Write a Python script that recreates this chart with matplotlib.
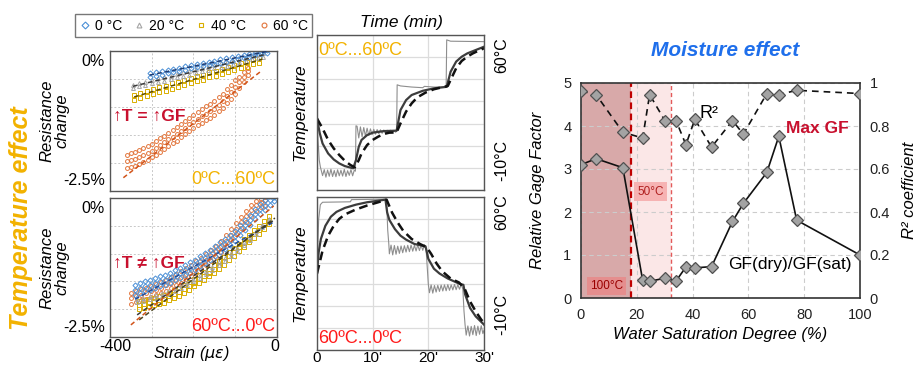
import matplotlib
matplotlib.use('Agg')
import matplotlib.pyplot as plt
from matplotlib.lines import Line2D
import numpy as np

plt.rcParams['font.family'] = ['Liberation Sans', 'DejaVu Sans']
plt.rcParams['mathtext.fontset'] = 'dejavusans'

# ---------------- DATA ----------------
temps_labels = ['0 °C', '20 °C', '40 °C', '60 °C']

# Top-left panel (0ºC...60ºC): strain (με) and resistance change (%)
top_s0 = [-305,-290,-276,-262,-248,-234,-220,-206,-192,-178,-164,-150,-136,-122,-108,-94,-80,-66,-52,-38,-25]
top_r0_hi = [-0.40,-0.38,-0.36,-0.34,-0.32,-0.30,-0.27,-0.25,-0.23,-0.21,-0.19,-0.17,-0.15,-0.13,-0.11,-0.09,-0.07,-0.05,-0.03,-0.01,0.01]
top_r0_lo = [-0.46,-0.44,-0.42,-0.40,-0.38,-0.36,-0.34,-0.31,-0.29,-0.27,-0.25,-0.23,-0.21,-0.19,-0.17,-0.14,-0.12,-0.10,-0.08,-0.06,-0.04]

top_s20 = [-345,-330,-315,-300,-285,-270,-255,-240,-225,-210,-195,-180,-165,-150,-135,-120,-105,-90,-75,-60,-45,-33]
top_r20_hi = [-0.60,-0.57,-0.55,-0.52,-0.49,-0.47,-0.44,-0.41,-0.38,-0.36,-0.33,-0.30,-0.28,-0.25,-0.22,-0.20,-0.17,-0.14,-0.11,-0.09,-0.06,-0.04]
top_r20_lo = [-0.66,-0.63,-0.61,-0.58,-0.55,-0.53,-0.50,-0.47,-0.44,-0.42,-0.39,-0.36,-0.34,-0.31,-0.28,-0.26,-0.23,-0.20,-0.17,-0.15,-0.12,-0.10]

top_s40 = [-342,-327,-312,-297,-282,-267,-252,-237,-222,-207,-192,-177,-162,-147,-132,-117,-102,-87,-72,-57,-42]
top_r40_hi = [-0.78,-0.75,-0.71,-0.68,-0.65,-0.62,-0.58,-0.55,-0.52,-0.48,-0.45,-0.42,-0.38,-0.35,-0.32,-0.29,-0.25,-0.22,-0.19,-0.15,-0.12]
top_r40_lo = [-0.87,-0.84,-0.80,-0.77,-0.74,-0.71,-0.67,-0.64,-0.61,-0.57,-0.54,-0.51,-0.47,-0.44,-0.41,-0.38,-0.34,-0.31,-0.28,-0.24,-0.21]

top_s60 = [-360,-350,-340,-330,-320,-310,-300,-290,-280,-270,-260,-250,-240,-230,-220,-210,-200,-190,-180,-170,-160,-150,-140,-130,-120,-110,-100,-90,-80,-70]
top_r60_mid = [-1.97,-1.95,-1.92,-1.89,-1.86,-1.82,-1.78,-1.73,-1.68,-1.63,-1.58,-1.53,-1.48,-1.42,-1.37,-1.31,-1.26,-1.21,-1.16,-1.12,-1.07,-1.03,-0.96,-0.89,-0.81,-0.73,-0.64,-0.56,-0.46,-0.36]
top_r60_hi = [-1.86,-1.83,-1.80,-1.77,-1.74,-1.70,-1.66,-1.61,-1.56,-1.51,-1.46,-1.41,-1.36,-1.30,-1.25,-1.19,-1.14,-1.09,-1.04,-0.99,-0.94,-0.89,-0.83,-0.76,-0.68,-0.60,-0.51,-0.46,-0.38,-0.30]
top_r60_lo = [-2.09,-2.07,-2.05,-2.01,-1.98,-1.94,-1.90,-1.85,-1.80,-1.75,-1.70,-1.65,-1.60,-1.54,-1.49,-1.43,-1.38,-1.33,-1.28,-1.24,-1.19,-1.15,-1.08,-1.01,-0.93,-0.85,-0.76,-0.66,-0.55,-0.43]

# linear fits (start strain, end strain, slope %/με, intercept %)
top_fit_range = [(-305, -20), (-345, -30), (-342, -35), (-368, -40)]
top_fit_slope = [0.0015, 0.001795, 0.0022, 0.005768]
top_fit_icpt = [0.0275, -0.0108, -0.0676, -0.1404]

# Bottom-left panel (60ºC...0ºC)
bot_s0 = [-340,-328,-316,-304,-292,-280,-268,-256,-244,-232,-220,-208,-196,-184,-172,-160,-148,-136,-124,-112,-100,-88,-76,-64,-52,-40,-28,-16,-6]
bot_r0_mid = [-1.65,-1.62,-1.59,-1.56,-1.53,-1.50,-1.47,-1.43,-1.39,-1.34,-1.30,-1.25,-1.20,-1.14,-1.08,-1.02,-0.96,-0.89,-0.83,-0.76,-0.68,-0.58,-0.49,-0.39,-0.29,-0.20,-0.12,-0.03,0.02]
bot_r0_hi = [-1.56,-1.53,-1.50,-1.47,-1.44,-1.41,-1.38,-1.34,-1.30,-1.25,-1.21,-1.16,-1.11,-1.05,-0.99,-0.93,-0.87,-0.80,-0.74,-0.67,-0.59,-0.49,-0.40,-0.30,-0.20,-0.11,-0.03,0.04,0.06]
bot_r0_lo = [-1.74,-1.71,-1.68,-1.65,-1.62,-1.59,-1.56,-1.52,-1.48,-1.43,-1.39,-1.34,-1.29,-1.23,-1.17,-1.11,-1.05,-0.98,-0.92,-0.85,-0.77,-0.67,-0.58,-0.48,-0.38,-0.29,-0.21,-0.12,-0.05]

bot_s20 = [-335,-320,-305,-290,-275,-260,-245,-230,-215,-200,-185,-170,-155,-140,-125,-110,-95,-80,-65,-50,-35,-20]
bot_r20_hi = [-1.82,-1.80,-1.77,-1.74,-1.71,-1.67,-1.62,-1.57,-1.51,-1.45,-1.38,-1.31,-1.24,-1.16,-1.08,-0.99,-0.90,-0.80,-0.70,-0.60,-0.48,-0.37]
bot_r20_lo = [-1.87,-1.85,-1.82,-1.79,-1.76,-1.72,-1.67,-1.62,-1.56,-1.50,-1.43,-1.36,-1.29,-1.21,-1.13,-1.04,-0.95,-0.85,-0.75,-0.65,-0.53,-0.42]

bot_s40 = [-330,-318,-306,-294,-282,-270,-258,-246,-234,-222,-210,-198,-186,-174,-162,-150,-138,-126,-114,-102,-90,-78,-66,-54,-42,-30,-18]
bot_r40_mid = [-1.92,-1.90,-1.88,-1.86,-1.84,-1.81,-1.77,-1.73,-1.69,-1.64,-1.58,-1.52,-1.46,-1.40,-1.34,-1.27,-1.20,-1.13,-1.05,-0.97,-0.89,-0.81,-0.73,-0.65,-0.57,-0.48,-0.40]
bot_r40_hi = [-1.85,-1.83,-1.81,-1.79,-1.77,-1.74,-1.70,-1.66,-1.62,-1.57,-1.51,-1.45,-1.39,-1.33,-1.27,-1.20,-1.13,-1.06,-0.98,-0.90,-0.82,-0.74,-0.66,-0.58,-0.50,-0.41,-0.33]
bot_r40_lo = [-1.99,-1.97,-1.95,-1.93,-1.91,-1.88,-1.84,-1.80,-1.76,-1.71,-1.65,-1.59,-1.53,-1.47,-1.41,-1.34,-1.27,-1.20,-1.12,-1.04,-0.96,-0.88,-0.80,-0.72,-0.64,-0.55,-0.47]

bot_s60 = [-350,-338,-326,-314,-302,-290,-278,-266,-254,-242,-230,-218,-206,-194,-182,-170,-158,-146,-134,-122,-110,-98,-86,-74,-62,-50,-38,-28]
bot_r60_mid = [-1.80,-1.77,-1.74,-1.71,-1.68,-1.65,-1.61,-1.57,-1.52,-1.47,-1.42,-1.36,-1.30,-1.24,-1.18,-1.11,-1.04,-0.96,-0.87,-0.77,-0.66,-0.55,-0.44,-0.33,-0.22,-0.13,-0.07,-0.04]
bot_r60_hi = [-1.70,-1.67,-1.64,-1.61,-1.58,-1.55,-1.51,-1.47,-1.42,-1.37,-1.32,-1.26,-1.20,-1.14,-1.08,-1.01,-0.94,-0.86,-0.77,-0.67,-0.56,-0.45,-0.34,-0.23,-0.12,-0.05,-0.01,0.01]
bot_r60_lo = [-1.90,-1.87,-1.84,-1.81,-1.78,-1.75,-1.71,-1.67,-1.62,-1.57,-1.52,-1.46,-1.40,-1.34,-1.28,-1.21,-1.14,-1.06,-0.97,-0.87,-0.76,-0.65,-0.54,-0.43,-0.32,-0.23,-0.17,-0.14]

bot_fit_range = [(-340, -5), (-335, -5), (-330, -5), (-350, -8)]
bot_fit_slope = [0.00418, 0.0052, 0.005635, 0.006254]
bot_fit_icpt = [-0.40, -0.36, -0.332, -0.0937]

# Middle panels: time (min) and temperature (°C)
top_t_gray = [0,0.2,0.4,0.6,0.8,1.0,1.3,1.6,1.9,2.2,2.5,2.8,3.1,3.4,3.7,4.0,4.3,4.6,4.9,5.2,5.5,5.8,6.1,6.4,6.7,6.9,7.0,
              7.2,7.5,7.8,8.1,8.4,8.7,9.0,9.3,9.6,9.9,10.2,10.5,10.8,11.1,11.4,11.7,12.0,12.3,12.6,12.9,13.2,13.5,13.8,14.1,
              14.3,14.4,15.0,17.0,19.0,19.3,21.0,23.2,23.3,24.0,30.0]
top_v_gray = [22.3,12.0,3.5,0.5,-1.5,-3.5,-0.8,-4.2,-1.0,-3.8,-0.6,-3.9,-1.2,-4.0,-0.9,-3.6,-1.1,-3.7,-0.7,-3.9,-1.3,-3.4,-0.8,-3.6,-1.0,-1.5,19.0,
              18.8,13.5,18.5,14.0,18.2,14.3,17.9,14.6,17.6,15.0,17.4,15.2,17.3,15.4,17.2,15.6,17.1,15.7,17.0,15.8,17.0,16.0,16.9,16.1,
              16.5,37.5,37.0,36.5,36.2,36.8,36.5,36.5,57.8,57.2,57.0]
top_t_solid = [0,0.5,1,2,3,4,5,6.5,7,7.5,8,9,10,12,14.3,15,16,17,19,21,23.3,24,25,26,27,28.5,30]
top_v_solid = [22.3,15.6,11.0,6.5,3.8,2.0,0.8,-0.2,3.5,9.5,12.6,14.8,15.9,16.6,16.8,26.1,30.6,32.9,34.8,35.9,36.6,43.4,48.0,50.2,51.7,53.2,54.7]
top_t_dash = [0,1,2,3,4,5,6,6.8,7.5,8,9,10,11,12,13,14.3,15,16,17,18,19.5,21,22.5,23.5,24,25,26,27,28,29,30]
top_v_dash = [22.3,17.8,12.6,8.8,5.8,3.2,1.3,0.2,3.5,6.5,10.3,12.6,14.1,15.3,15.9,16.0,20.1,25.4,29.1,31.8,34.0,35.5,36.4,37.0,39.7,45.0,48.3,50.2,51.7,52.9,54.0]

bot_t_gray = [0,0.3,0.6,1.0,6.0,6.2,12.4,12.5,12.7,12.9,
              13.0,13.3,13.6,13.9,14.2,14.5,14.8,15.1,15.4,15.7,16.0,16.3,16.6,16.9,17.2,17.5,17.8,18.1,18.4,18.7,19.0,19.3,19.6,
              19.8,20.0,
              20.2,20.5,20.8,21.1,21.4,21.7,22.0,22.3,22.6,22.9,23.2,23.5,23.8,24.1,24.4,24.7,25.0,25.3,25.6,25.9,26.2,
              26.4,26.6,
              26.8,27.1,27.4,27.7,28.0,28.3,28.6,28.9,29.2,29.5,29.8,30.0]
bot_v_gray = [25.7,49.8,56.5,57.6,57.8,58.8,59.0,58.8,45.0,38.5,
              34.0,38.0,33.5,37.8,33.8,37.5,34.2,37.6,34.5,37.7,34.8,37.9,35.0,38.0,35.2,37.9,35.3,38.1,35.5,38.0,35.6,38.2,36.0,
              28.0,20.0,
              16.2,19.8,16.0,19.5,16.5,19.6,16.8,19.7,17.0,19.8,17.1,19.9,17.3,19.8,17.5,20.0,17.6,19.9,17.8,20.0,17.9,
              8.0,1.5,
              -3.2,1.0,-3.6,0.8,-3.0,1.2,-3.4,0.9,-2.8,1.1,-2.5,-1.0]
bot_t_solid = [0,0.3,0.7,1.5,2.5,3.5,5,7,9,11,12.3,12.6,13,14,15,16,17.5,19.5,19.8,20,21,22,23.5,25.5,26.3,26.6,27.5,28.5,30]
bot_v_solid = [25.0,34.7,40.8,46.8,51.0,53.2,55.0,56.5,57.6,58.3,58.8,53.0,49.5,45.3,42.3,40.5,38.5,37.4,34.0,31.7,27.2,25.0,22.7,20.4,19.8,15.5,9.2,5.4,1.6]
bot_t_dash = [0,0.5,1,2,3,4,5,7,9,11,12.5,13.5,14.5,15.5,17,18.5,19.7,20.5,21.5,22.5,24,25.5,26.5,27.5,28.5,29.5,30]
bot_v_dash = [25.0,30.2,35.5,42.3,46.8,50.0,52.0,54.3,56.1,57.6,58.8,52.8,48.3,44.5,40.8,38.5,37.0,34.0,29.5,26.0,22.7,20.9,18.2,12.2,7.7,3.9,2.4]

# Right panel: moisture effect
ws = [0, 5.4, 15.0, 22.1, 24.6, 30.1, 34.1, 37.6, 40.8, 46.8, 54.3, 58.2, 66.6, 70.9, 77.3, 100]
gf_ratio = [3.10, 3.24, 3.03, 0.41, 0.39, 0.46, 0.40, 0.72, 0.70, 0.73, 1.78, 2.20, 2.92, 3.76, 1.81, 1.00]
r2 = [0.963, 0.946, 0.771, 0.744, 0.946, 0.824, 0.824, 0.713, 0.831, 0.702, 0.825, 0.762, 0.951, 0.946, 0.966, 0.951]
dry100 = (0, 17.9)
dry50 = (17.9, 32.1)

# ---------------- STYLE ----------------
C0, C20, C40, C60 = '#4A8FD6', '#A5A5A5', '#D9AE00', '#E2743A'
YEL = '#F2B200'
RED = '#FF1A1A'
CRIM = '#C8102E'

W, H = 920, 365
fig = plt.figure(figsize=(W/100, H/100), dpi=100)


def fax(x0, y0, x1, y1):
    return fig.add_axes([x0/W, 1-y1/H, (x1-x0)/W, (y1-y0)/H])


def scat(ax, s, r, marker, color, ms=2.8):
    ax.plot(s, r, ls='none', marker=marker, ms=ms, mfc='none', mec=color, mew=0.7, zorder=2)


def fitline(ax, rng, slope, icpt, color):
    xs = np.array(rng, dtype=float)
    ax.plot(xs, slope*xs + icpt, ls=(0, (3, 2)), color=color, lw=1.1, zorder=3)


def style_left(ax):
    ax.set_xlim(-400, 0)
    ax.set_ylim(-2.5, 0)
    ax.set_xticks([-400, -300, -200, -100, 0])
    ax.set_yticks([-2.5, -2, -1.5, -1, -0.5, 0])
    ax.set_xticklabels([])
    ax.set_yticklabels([])
    ax.tick_params(length=0)
    ax.grid(True, color='#c8c8c8', ls=(0, (2, 2)), lw=0.7)
    ax.set_axisbelow(True)
    for sp in ax.spines.values():
        sp.set_color('#555555')
        sp.set_linewidth(1.0)
    ax.text(-0.03, 1-11/140, '0%', transform=ax.transAxes, ha='right', va='center', fontsize=11.5)
    ax.text(-0.03, 10/140, '-2.5%', transform=ax.transAxes, ha='right', va='center', fontsize=11.5)
    ax.text(-0.33, 0.5, 'Resistance\nchange', transform=ax.transAxes, rotation=90,
            ha='center', va='center', fontsize=12, style='italic', linespacing=1.0)


# --- Top-left panel
axa = fax(110, 51, 277, 191)
style_left(axa)
scat(axa, top_s60, top_r60_mid, 'o', C60)
scat(axa, top_s60, top_r60_hi, 'o', C60)
scat(axa, top_s60, top_r60_lo, 'o', C60)
scat(axa, top_s40, top_r40_hi, 's', C40, 2.6)
scat(axa, top_s40, top_r40_lo, 's', C40, 2.6)
scat(axa, top_s20, top_r20_hi, '^', C20, 2.8)
scat(axa, top_s20, top_r20_lo, '^', C20, 2.8)
scat(axa, top_s0, top_r0_hi, 'D', C0, 2.6)
scat(axa, top_s0, top_r0_lo, 'D', C0, 2.6)
for rng, sl, ic, col in zip(top_fit_range, top_fit_slope, top_fit_icpt, ['#1F3C73', '#3A3A3A', '#5C4B00', '#D2541A']):
    fitline(axa, rng, sl, ic, col)
axa.text(0.02, 0.53, '↑T = ↑GF', transform=axa.transAxes, color=CRIM, fontsize=12.5,
         fontweight='bold', ha='left', va='center')
axa.text(0.99, 0.08, '0ºC...60ºC', transform=axa.transAxes, color=YEL, fontsize=13,
         ha='right', va='center')

# --- Bottom-left panel
axb = fax(110, 198, 277, 337)
style_left(axb)
scat(axb, bot_s60, bot_r60_mid, 'o', C60)
scat(axb, bot_s60, bot_r60_hi, 'o', C60)
scat(axb, bot_s60, bot_r60_lo, 'o', C60)
scat(axb, bot_s40, bot_r40_mid, 's', C40, 2.6)
scat(axb, bot_s40, bot_r40_hi, 's', C40, 2.6)
scat(axb, bot_s40, bot_r40_lo, 's', C40, 2.6)
scat(axb, bot_s20, bot_r20_hi, '^', C20, 2.8)
scat(axb, bot_s20, bot_r20_lo, '^', C20, 2.8)
scat(axb, bot_s0, bot_r0_mid, 'D', C0, 2.6)
scat(axb, bot_s0, bot_r0_hi, 'D', C0, 2.6)
scat(axb, bot_s0, bot_r0_lo, 'D', C0, 2.6)
for rng, sl, ic, col in zip(bot_fit_range, bot_fit_slope, bot_fit_icpt, ['#1F4E9F', '#3A3A3A', '#4A4420', '#D2541A']):
    fitline(axb, rng, sl, ic, col)
axb.text(0.02, 0.53, '↑T ≠ ↑GF', transform=axb.transAxes, color=CRIM, fontsize=12.5,
         fontweight='bold', ha='left', va='center')
axb.text(0.99, 0.072, '60ºC...0ºC', transform=axb.transAxes, color=RED, fontsize=13,
         ha='right', va='center')
axb.text(0.03, -0.07, '-400', transform=axb.transAxes, ha='center', va='center', fontsize=11.5)
axb.text(0.988, -0.07, '0', transform=axb.transAxes, ha='center', va='center', fontsize=11.5)
axb.text(0.49, -0.12, r'Strain ($\mu\varepsilon$)', transform=axb.transAxes, ha='center', va='center',
         fontsize=11.5, style='italic')

# Legend
handles = [Line2D([], [], ls='none', marker=m, ms=3.5, mfc='none', mec=c, mew=0.8)
           for m, c in zip(['D', '^', 's', 'o'], [C0, C20, C40, C60])]
fig.legend(handles, temps_labels, ncol=4, loc='center', bbox_to_anchor=(193.5/W, 1-25.5/H),
           frameon=True, fancybox=False, edgecolor='#555555', handletextpad=0.25,
           columnspacing=0.8, handlelength=0.9, fontsize=10, borderpad=0.3,
           borderaxespad=0)

fig.text(21/W, 1-218/H, 'Temperature effect', rotation=90, ha='center', va='center',
         fontsize=18, fontweight='bold', style='italic', color=YEL)


# --- Middle panels
def style_mid(ax):
    ax.set_xlim(0, 30)
    ax.set_ylim(-10, 60)
    ax.set_xticks([0, 10, 20, 30])
    ax.set_yticks(range(-10, 61, 10))
    ax.set_yticklabels([])
    ax.tick_params(length=0)
    ax.grid(True, color='#dcdcdc', lw=0.9)
    ax.set_axisbelow(True)
    for sp in ax.spines.values():
        sp.set_color('#555555')
        sp.set_linewidth(1.0)
    ax.text(-0.10, 0.5, 'Temperature', transform=ax.transAxes, rotation=90, ha='center',
            va='center', fontsize=12.5, style='italic')


axc = fax(317, 35, 484, 190)
style_mid(axc)
axc.set_xticklabels([])
axc.plot(top_t_gray, top_v_gray, color='#8E8E8E', lw=0.8)
axc.plot(top_t_solid, top_v_solid, color='#3C3C3C', lw=1.6)
axc.plot(top_t_dash, top_v_dash, color='#111111', lw=1.8, ls=(0, (3.5, 2)))
axc.text(0.006, 0.903, '0ºC...60ºC', transform=axc.transAxes, color=YEL, fontsize=13,
         ha='left', va='center')
axc.text(1.108, 0.87, '60°C', transform=axc.transAxes, rotation=90, ha='center', va='center', fontsize=11.5)
axc.text(1.108, 0.19, '-10°C', transform=axc.transAxes, rotation=90, ha='center', va='center', fontsize=11.5)
fig.text(401/W, 1-22/H, 'Time (min)', ha='center', va='center', fontsize=12.5, style='italic')

axd = fax(317, 197, 484, 350)
style_mid(axd)
axd.set_xticklabels(['0', "10'", "20'", "30'"], fontsize=11)
axd.tick_params(axis='x', pad=1)
axd.plot(bot_t_gray, bot_v_gray, color='#8E8E8E', lw=0.8)
axd.plot(bot_t_solid, bot_v_solid, color='#3C3C3C', lw=1.6)
axd.plot(bot_t_dash, bot_v_dash, color='#111111', lw=1.8, ls=(0, (3.5, 2)))
axd.text(0.006, 0.077, '60ºC...0ºC', transform=axd.transAxes, color=RED, fontsize=13,
         ha='left', va='center')
axd.text(1.108, 0.90, '60°C', transform=axd.transAxes, rotation=90, ha='center', va='center', fontsize=11.5)
axd.text(1.108, 0.23, '-10°C', transform=axd.transAxes, rotation=90, ha='center', va='center', fontsize=11.5)

# --- Right panel
axe = fax(581, 83, 860, 298)
axe.set_xlim(0, 100)
axe.set_ylim(0, 5)
axe.axvspan(*dry100, color='#D8A9A9', zorder=0, lw=0)
axe.axvspan(*dry50, color='#FBE7E7', zorder=0, lw=0)
axe.set_axisbelow(True)
axe.grid(True, color='#cccccc', ls=(0, (4, 3)), lw=0.8)
axe.axvline(dry100[1], color='#C00000', ls=(0, (3, 2)), lw=1.6, zorder=1)
axe.axvline(dry50[1], color='#E35A5A', ls=(0, (3, 2)), lw=1.0, zorder=1)
axe.plot(ws, gf_ratio, '-', color='#111111', lw=1.2, marker='D', ms=6.5, mfc='#A3A3A3',
         mec='#505050', mew=0.9, zorder=4)
axe.set_xticks([0, 20, 40, 60, 80, 100])
axe.set_yticks([0, 1, 2, 3, 4, 5])
axe.tick_params(length=0, labelsize=10.5, pad=7, colors='#222222')
for sp in axe.spines.values():
    sp.set_color('#333333')
    sp.set_linewidth(1.2)
axe.text(9, 0.27, '100°C', fontsize=8.5, color='#9A0000', ha='center', va='center',
         bbox=dict(boxstyle='square,pad=0.25', fc='#E58E8E', ec='none'), zorder=5)
axe.text(24.9, 2.47, '50°C', fontsize=8.5, color='#B02020', ha='center', va='center',
         bbox=dict(boxstyle='square,pad=0.3', fc='#F6B3B3', ec='none'), zorder=5)
axe.text(46, 4.3, 'R²', fontsize=13, ha='center', va='center', zorder=5)
axe.text(84.6, 3.95, 'Max GF', fontsize=12.5, fontweight='bold', color=CRIM, ha='center',
         va='center', zorder=5)
axe.text(74.9, 0.77, 'GF(dry)/GF(sat)', fontsize=12.5, ha='center', va='center', zorder=5)
axe.set_xlabel('Water Saturation Degree (%)', fontsize=12, style='italic', labelpad=4)
axe.text(-(581-538)/279, 0.5, 'Relative Gage Factor', transform=axe.transAxes, rotation=90,
         ha='center', va='center', fontsize=12, style='italic')

axf = axe.twinx()
axf.set_ylim(0, 1)
axf.plot(ws, r2, color='#111111', lw=1.2, ls=(0, (4, 3)), marker='D', ms=6.5, mfc='#A3A3A3',
         mec='#505050', mew=0.9, zorder=4)
axf.set_yticks([0, 0.2, 0.4, 0.6, 0.8, 1.0])
axf.set_yticklabels(['0', '0.2', '0.4', '0.6', '0.8', '1'])
axf.tick_params(length=0, labelsize=10.5, pad=7, colors='#222222')
for sp in axf.spines.values():
    sp.set_visible(False)
axf.text(1.179, 0.5, 'R² coefficient', transform=axf.transAxes, rotation=90,
         ha='center', va='center', fontsize=12, style='italic')

fig.text(725/W, 1-50/H, 'Moisture effect', ha='center', va='center', fontsize=15,
         fontweight='bold', style='italic', color='#1F6FEB')

fig.savefig('out.png', dpi=100)
